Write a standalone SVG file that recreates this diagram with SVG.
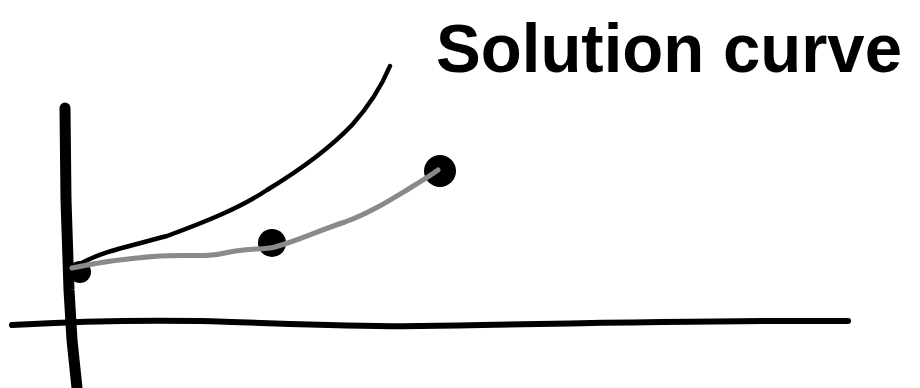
<svg xmlns="http://www.w3.org/2000/svg" width="920" height="388" viewBox="0 0 920 388">
<style>
.ink{fill:none;stroke:#000;stroke-linecap:round;stroke-linejoin:round}
.dot{fill:#000}
.gray{fill:none;stroke:#8a8a8a;stroke-width:5;stroke-linecap:round;stroke-linejoin:round}
.lbl{font-family:"Liberation Sans","DejaVu Sans",sans-serif;font-weight:bold;font-size:68px;fill:#000}
</style>
<rect width="920" height="388" fill="#fff"/>
<g id="axes">
<path class="ink" stroke-width="11" d="M65,108 L66,200 L69,290 L72,340 L77,388"/>
<path class="ink" stroke-width="6" d="M12,325 C80,321 140,320 200,321 C300,324 360,327 420,326 C560,324 700,320 848,321"/>
</g>
<g id="solution-curve">
<path class="ink" stroke-width="4.5" d="M78,265 C100,252 130,246 167,236 C205,222 240,208 267,190 C300,170 330,148 352,125 C370,105 382,85 390,66"/>
</g>
<g id="points">
<circle class="dot" cx="80" cy="272" r="11"/>
<circle class="dot" cx="272" cy="243" r="14"/>
<circle class="dot" cx="440" cy="171" r="16"/>
</g>
<g id="connectors">
<path class="gray" d="M72,268 C100,262 130,258 160,256 C190,254 205,258 230,252 C250,248 262,250 275,247 C300,240 320,230 345,222 C370,213 390,200 410,188 C420,182 430,176 438,170"/>
</g>
<g id="label">
<text class="lbl" x="436" y="72" textLength="466" lengthAdjust="spacingAndGlyphs">Solution curve</text>
</g>
</svg>
